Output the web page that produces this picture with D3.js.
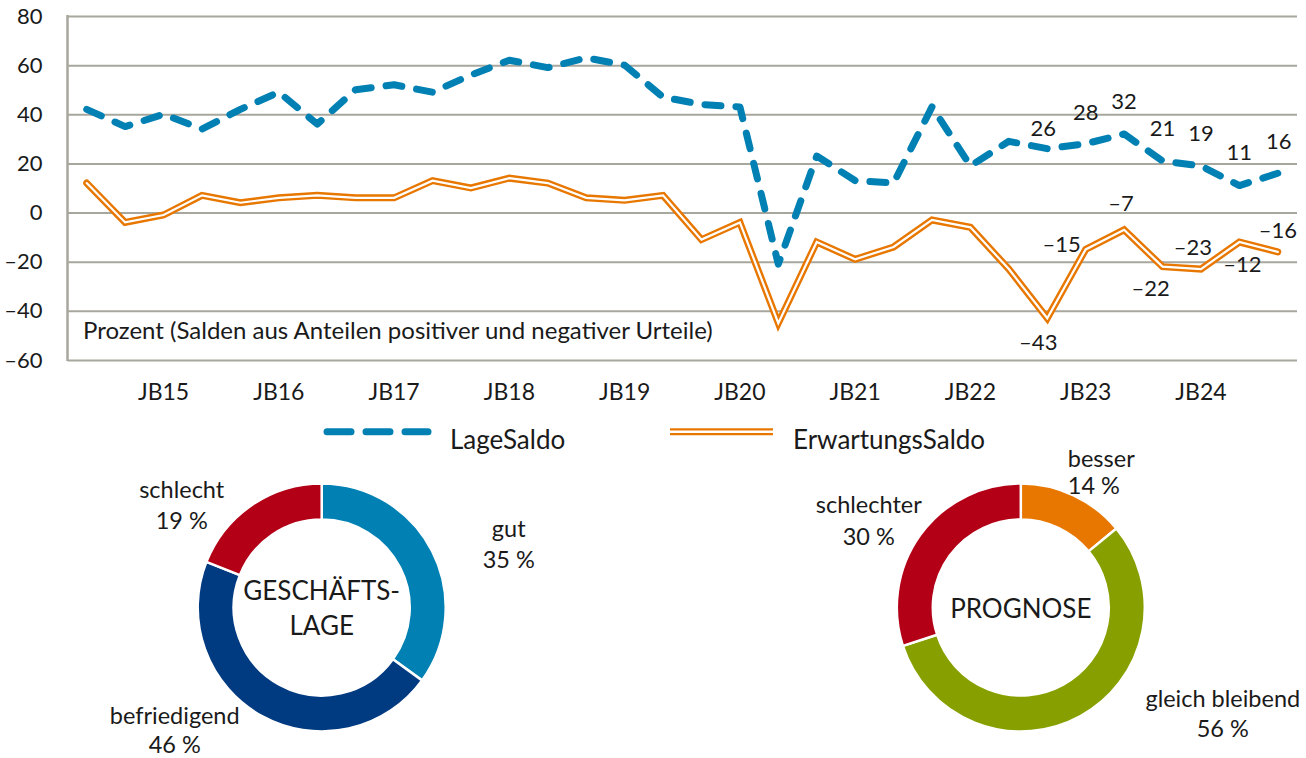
<!DOCTYPE html>
<html>
<head>
<meta charset="utf-8">
<script src="https://cdn.jsdelivr.net/npm/d3@7"></script>
<style>
body { margin: 0; background: #fff; }
text { font-family: Lato, "Open Sans", sans-serif; fill: #1a1a1a; }
</style>
</head>
<body>
<svg id="chart" width="1306" height="758"></svg>
<script>
// survey waves, three per year (JB = Jahresbericht)
var periods = ["14-3","15-1","15-2","15-3","16-1","16-2","16-3","17-1","17-2","17-3",
  "18-1","18-2","18-3","19-1","19-2","19-3","20-1","20-2","20-3","21-1","21-2","21-3",
  "22-1","22-2","22-3","23-1","23-2","23-3","24-1","24-2","24-3","25-1"];
var yearTicks = ["15-2","16-2","17-2","18-2","19-2","20-2","21-2","22-2","23-2","24-2"];
var yearLabels = ["JB15","JB16","JB17","JB18","JB19","JB20","JB21","JB22","JB23","JB24"];
var yTicks = [-60,-40,-20,0,20,40,60,80];

var lageSaldo = [42,35,40,34,42,49,36,50,52,49,56,62,59,63,60,47,44,43,-21,23,
  13,12,43,19,29,26,28,32,21,19,11,16];
var erwSaldo = [12,-4,-1,7,4,6,7,6,6,13,10,14,12,6,5,7,-11,-4,-45,-12,
  -19,-14,-3,-6,-23,-43,-15,-7,-22,-23,-12,-16];

// the last waves get value labels
var labelFrom = 25;
var lageLabelOffsets = [[-4,-21],[0,-32],[0,-33],[0,-33],[0,-33],[0,-33],[1,-32]];
var erwLabelOffsets = [[-9,24],[-24,-5],[-3,-27],[-12,21],[-8,-22],[3,22],[0,-22]];

var lageCats = ["gut","befriedigend","schlecht"];
var lageShares = [35,46,19];
var lageColors = ["#0080b3","#003a80","#b30016"];
var progCats = ["besser","gleich bleibend","schlechter"];
var progShares = [14,56,30];
var progColors = ["#e87700","#87a000","#b30016"];

var blue = "#0080b3", orange = "#e87700", gridGray = "#a8a79d";
var fmt = function(v) { return v < 0 ? "\u2013" + Math.abs(v) : String(v); };

var svg = d3.select("#chart");

// ---- line chart ----
var x = d3.scaleBand().domain(periods).range([67.5, 1297]);
var y = d3.scaleLinear().domain([-60, 80]).range([360, 16]);
var cx = function(p) { return x(p) + x.bandwidth() / 2; };

var yAxis = svg.append("g")
    .attr("transform", "translate(67.5,0)")
    .call(d3.axisLeft(y).tickValues(yTicks).tickSize(-(1297 - 67.5)).tickPadding(25).tickFormat(fmt));
yAxis.select(".domain").remove();
yAxis.selectAll(".tick line").attr("stroke", gridGray).attr("stroke-width", 2);
yAxis.selectAll(".tick text").style("font-size", "22px").attr("fill", "#1a1a1a");

svg.append("line")
    .attr("x1", 67.5).attr("x2", 67.5).attr("y1", y(80) - 1).attr("y2", y(-60) + 1)
    .attr("stroke", gridGray).attr("stroke-width", 2.5);

var xAxis = svg.append("g")
    .attr("transform", "translate(0,360)")
    .call(d3.axisBottom(x).tickValues(yearTicks).tickSize(0).tickPadding(0)
      .tickFormat(function(d) { return yearLabels[yearTicks.indexOf(d)]; }));
xAxis.select(".domain").remove();
xAxis.selectAll(".tick text").style("font-size", "23px").attr("fill", "#1a1a1a")
    .attr("y", 40).attr("dy", null);

svg.append("text")
    .attr("x", 83).attr("y", 339)
    .style("font-size", "24px")
    .text("Prozent (Salden aus Anteilen positiver und negativer Urteile)");

var lineOf = function(vals) {
  return d3.line().x(function(d, i) { return cx(periods[i]); }).y(function(d) { return y(d); })(vals);
};

// ErwartungsSaldo: double line (orange with white core)
svg.append("path").attr("d", lineOf(erwSaldo)).attr("fill", "none")
    .attr("stroke", orange).attr("stroke-width", 7).attr("stroke-linejoin", "miter").attr("stroke-linecap", "round");
svg.append("path").attr("d", lineOf(erwSaldo)).attr("fill", "none")
    .attr("stroke", "#fff").attr("stroke-width", 2.2).attr("stroke-linejoin", "miter").attr("stroke-linecap", "round");

// LageSaldo: thick dashes
svg.append("path").attr("d", lineOf(lageSaldo)).attr("fill", "none")
    .attr("stroke", blue).attr("stroke-width", 7).attr("stroke-dasharray", "16 15")
    .attr("stroke-linecap", "round").attr("stroke-linejoin", "round");

svg.append("g").selectAll("text")
    .data(lageSaldo.slice(labelFrom))
    .join("text")
    .attr("x", function(d, i) { return cx(periods[labelFrom + i]) + lageLabelOffsets[i][0]; })
    .attr("y", function(d, i) { return y(d) + lageLabelOffsets[i][1]; })
    .attr("dy", "0.36em").attr("text-anchor", "middle").style("font-size", "22px")
    .text(fmt);

svg.append("g").selectAll("text")
    .data(erwSaldo.slice(labelFrom))
    .join("text")
    .attr("x", function(d, i) { return cx(periods[labelFrom + i]) + erwLabelOffsets[i][0]; })
    .attr("y", function(d, i) { return y(d) + erwLabelOffsets[i][1]; })
    .attr("dy", "0.36em").attr("text-anchor", "middle").style("font-size", "22px")
    .text(fmt);

// ---- legend ----
var legend = svg.append("g");
legend.append("line").attr("x1", 327).attr("x2", 428).attr("y1", 431.7).attr("y2", 431.7)
    .attr("stroke", blue).attr("stroke-width", 7).attr("stroke-linecap", "round").attr("stroke-dasharray", "24 15");
legend.append("text").attr("x", 450).attr("y", 449.3).style("font-size", "26px").text("LageSaldo");
legend.append("line").attr("x1", 670).attr("x2", 773).attr("y1", 431.8).attr("y2", 431.8)
    .attr("stroke", orange).attr("stroke-width", 7);
legend.append("line").attr("x1", 669).attr("x2", 774).attr("y1", 431.8).attr("y2", 431.8)
    .attr("stroke", "#fff").attr("stroke-width", 2.5);
legend.append("text").attr("x", 793).attr("y", 449.3).style("font-size", "26px").text("ErwartungsSaldo");

// ---- donuts ----
var pie = d3.pie().sort(null).value(function(d) { return d; });
var arc = d3.arc().innerRadius(88).outerRadius(124);

function donut(centerX, centerY, cats, shares, colors, title, labelPos) {
  var g = svg.append("g").attr("transform", "translate(" + centerX + "," + centerY + ")");
  g.selectAll("path")
    .data(pie(shares))
    .join("path")
    .attr("d", arc)
    .attr("fill", function(d, i) { return colors[i]; })
    .attr("stroke", "#fff").attr("stroke-width", 2.5);

  var t = g.append("text").attr("text-anchor", "middle").style("font-size", "26px");
  title.forEach(function(line, i) {
    t.append("tspan").attr("x", 0).attr("y", title.length === 1 ? 10.5 : -7.5 + i * 35).text(line);
  });

  cats.forEach(function(c, i) {
    var p = labelPos[i];
    var lt = g.append("text").attr("text-anchor", p[3] || "middle").style("font-size", "23.5px");
    lt.append("tspan").attr("x", p[0]).attr("y", p[1]).text(c);
    lt.append("tspan").attr("x", p[0]).attr("y", p[1] + p[2]).text(shares[i] + " %");
  });
}

donut(321.7, 607.5, lageCats, lageShares, lageColors, ["GESCH\u00c4FTS-", "LAGE"],
  [[187, -70.5, 31], [-147, 116, 29], [-140, -110, 31]]);
donut(1020.8, 607.5, progCats, progShares, progColors, ["PROGNOSE"],
  [[47, -141, 27, "start"], [202, 99, 30], [-152, -95, 32]]);
</script>
</body>
</html>
